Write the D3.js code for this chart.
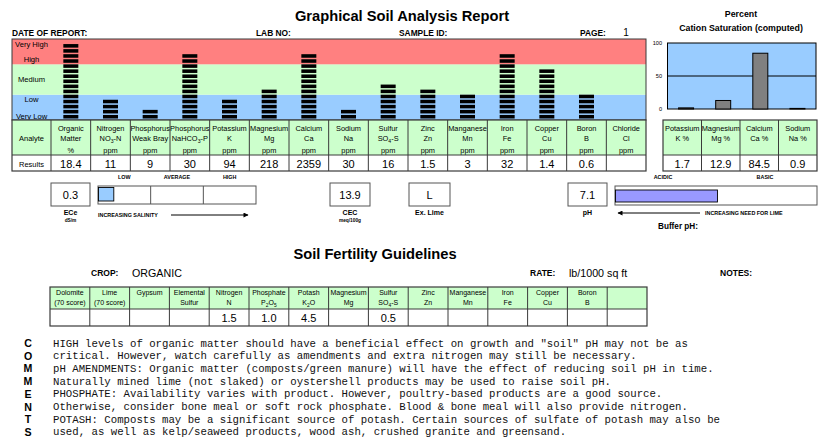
<!DOCTYPE html>
<html><head><meta charset="utf-8">
<script src="https://cdn.jsdelivr.net/npm/d3@7"></script>
<style>body{margin:0;background:#fff}svg{display:block}</style>
</head><body><svg id="c" width="830" height="448"></svg>
<script>
// ---------- DATA ----------
const analyteNames = ["Organic","Nitrogen","Phosphorus","Phosphorus","Potassium","Magnesium","Calcium","Sodium","Sulfur","Zinc","Manganese","Iron","Copper","Boron","Chloride"];
const analyteSub = ["Matter","NO{3}-N","Weak Bray","NaHCO{3}-P","K","Mg","Ca","Na","SO{4}-S","Zn","Mn","Fe","Cu","B","Cl"];
const analyteUnits = ["%","ppm","ppm","ppm","ppm","ppm","ppm","ppm","ppm","ppm","ppm","ppm","ppm","ppm","ppm"];
const results = ["18.4","11","9","30","94","218","2359","30","16","1.5","3","32","1.4","0.6",""];
const levels = [15,4,2,13,4,6,13,2,7,6,5,13,10,5,0];
const bandEdges = [0,5,11,16];
const bandColors = ["#99ccff","#ccffcc","#ff8080"];
const levelLabels = ["Very High","High","Medium","Low","Very Low"];
const levelLabelAt = [15,12,8,4,0.8];

const cationNames = ["Potassium","Magnesium","Calcium","Sodium"];
const cationSymbols = ["K %","Mg %","Ca %","Na %"];
const cationValues = [1.7,12.9,84.5,0.9];
const cationTicks = [0,50,100];

const ece = 0.3, cec = "13.9", exLime = "L", ph = 7.1;
const salinityLabels = ["LOW","AVERAGE","HIGH"];

const guideNames = ["Dolomite","Lime","Gypsum","Elemental","Nitrogen","Phosphate","Potash","Magnesium","Sulfur","Zinc","Manganese","Iron","Copper","Boron",""];
const guideSub = ["(70 score)","(70 score)","","Sulfur","N","P{2}O{5}","K{2}O","Mg","SO{4}-S","Zn","Mn","Fe","Cu","B",""];
const guideValues = ["","","","","1.5","1.0","4.5","","0.5","","","","","",""];

const commentLetters = ["C","O","M","M","E","N","T","S"];
const commentLines = [
 "HIGH levels of organic matter should have a beneficial effect on growth and \"soil\" pH may not be as",
 "critical. However, watch carefully as amendments and extra nitrogen may still be necessary.",
 "pH AMENDMENTS: Organic matter (composts/green manure) will have the effect of reducing soil pH in time.",
 "Naturally mined lime (not slaked) or oystershell products may be used to raise soil pH.",
 "PHOSPHATE: Availability varies with product. However, poultry-based products are a good source.",
 "Otherwise, consider bone meal or soft rock phosphate. Blood & bone meal will also provide nitrogen.",
 "POTASH: Composts may be a significant source of potash. Certain sources of sulfate of potash may also be",
 "used, as well as kelp/seaweed products, wood ash, crushed granite and greensand."
];

// ---------- HELPERS ----------
const SANS = '"Liberation Sans", Arial, Helvetica, sans-serif';
const svg = d3.select("#c");
const LINE = "#3a3a3a";
function txt(x, y, s, size, o = {}) {
  const t = svg.append("text").attr("x", x).attr("y", y)
    .attr("font-family", o.family || SANS).attr("font-size", size)
    .attr("font-weight", o.bold ? "bold" : "normal")
    .attr("text-anchor", o.anchor || "start").attr("fill", o.fill || "#000");
  if (o.rich) rich(t, s, size); else t.text(s);
  return t;
}
function rich(t, s, size) {
  const parts = s.split(/(\{[^}]*\})/).filter(p => p.length);
  let shifted = false;
  parts.forEach(p => {
    if (p[0] === "{") {
      t.append("tspan").attr("font-size", size * 0.7).attr("dy", shifted ? 0 : size * 0.3).text(p.slice(1, -1));
      shifted = true;
    } else {
      t.append("tspan").attr("dy", shifted ? -size * 0.3 : 0).text(p);
      shifted = false;
    }
  });
}
function rect(x, y, w, h, fill, stroke, sw) {
  return svg.append("rect").attr("x", x).attr("y", y).attr("width", w).attr("height", h)
    .attr("fill", fill || "none").attr("stroke", stroke || "none").attr("stroke-width", sw || 1);
}
function line(x1, y1, x2, y2, stroke, sw) {
  return svg.append("line").attr("x1", x1).attr("y1", y1).attr("x2", x2).attr("y2", y2)
    .attr("stroke", stroke || LINE).attr("stroke-width", sw || 1);
}
svg.append("defs").append("marker").attr("id", "ah").attr("viewBox", "0 0 10 10")
  .attr("refX", 9).attr("refY", 5).attr("markerWidth", 7).attr("markerHeight", 5)
  .attr("markerUnits", "userSpaceOnUse").attr("orient", "auto")
  .append("path").attr("d", "M0,0L10,5L0,10Z").attr("fill", "#000");

// ---------- TITLE / HEADER ----------
txt(402, 21, "Graphical Soil Analysis Report", 14.7, {bold: true, anchor: "middle"});
txt(12, 36, "DATE OF REPORT:", 8.4, {bold: true});
txt(256, 36, "LAB NO:", 8.4, {bold: true});
txt(399, 36, "SAMPLE ID:", 8.4, {bold: true});
txt(580, 36, "PAGE:", 8.4, {bold: true});
txt(626, 36, "1", 10, {anchor: "middle"});

// ---------- BAND CHART ----------
const LX0 = 12, LX1 = 51, RX = 646;
const x = d3.scaleBand().domain(d3.range(analyteNames.length)).range([LX1, RX]);
const y = d3.scaleLinear().domain([0, 16]).range([120, 39]);
const pitch = y(0) - y(1);
d3.range(3).forEach(i => {
  rect(LX0, y(bandEdges[i + 1]), RX - LX0, y(bandEdges[i]) - y(bandEdges[i + 1]), bandColors[i]);
});
levelLabels.forEach((l, i) => txt((LX0 + LX1) / 2, y(levelLabelAt[i]) + 2.6, l, 7.6, {anchor: "middle"}));
const bw = 15;
levels.forEach((n, i) => {
  svg.append("g").selectAll("rect").data(d3.range(n)).join("rect")
    .attr("x", x(i) + (x.bandwidth() - bw) / 2).attr("width", bw)
    .attr("y", k => y(k + 1)).attr("height", pitch - 1.5).attr("fill", "#000");
});
rect(LX0, 39, RX - LX0, 81, "none", LINE, 1);

// table
const TH0 = 120, TH1 = 155, TR1 = 171;
rect(LX0, TH0, RX - LX0, TH1 - TH0, "#ccffcc");
rect(LX0, TH1, RX - LX0, TR1 - TH1, "#fff");
txt((LX0 + LX1) / 2, 141, "Analyte", 7.5, {anchor: "middle"});
txt((LX0 + LX1) / 2, 166.5, "Results", 7.5, {anchor: "middle"});
analyteNames.forEach((nm, i) => {
  const cx = x(i) + x.bandwidth() / 2;
  txt(cx, 130.5, nm, 7.4, {anchor: "middle"});
  txt(cx, 141, analyteSub[i], 7.4, {anchor: "middle", rich: true});
  txt(cx, 152.5, analyteUnits[i], 7.4, {anchor: "middle"});
  txt(cx, 167.5, results[i], 11, {anchor: "middle"});
  line(x(i), TH0, x(i), TR1, LINE, 1);
});
line(LX0, TH1, RX, TH1, LINE, 1);
rect(LX0, TH0, RX - LX0, TR1 - TH0, "none", LINE, 1.2);

// ---------- CATION CHART ----------
txt(741, 17, "Percent", 8.8, {bold: true, anchor: "middle"});
txt(741, 31, "Cation Saturation (computed)", 8.8, {bold: true, anchor: "middle"});
const cy = d3.scaleLinear().domain([0, 100]).range([109, 43]);
const cx = d3.scaleBand().domain(d3.range(cationNames.length)).range([667.5, 816]);
rect(667.5, cy(100), 816 - 667.5, cy(0) - cy(100), "#99ccff", "#000", 1);
cationTicks.forEach(t => {
  txt(662, cy(t) + 2, String(t), 5.6, {anchor: "end"});
  if (t > 0 && t < 100) line(667.5, cy(t), 816, cy(t), "#000", 1);
});
cationValues.forEach((v, i) => {
  rect(cx(i) + (cx.bandwidth() - bw) / 2, cy(v), bw, cy(0) - cy(v), "#808080", "#000", 1);
});
const ct = d3.scaleBand().domain(d3.range(cationNames.length)).range([663, 817]);
rect(663, TH0, 154, TH1 - TH0, "#ccffcc");
rect(663, TH1, 154, TR1 - TH1, "#fff");
cationNames.forEach((nm, i) => {
  const c = ct(i) + ct.bandwidth() / 2;
  txt(c, 130.5, nm, 7.4, {anchor: "middle"});
  txt(c, 141, cationSymbols[i], 7.4, {anchor: "middle"});
  txt(c, 167.5, String(cationValues[i]), 11, {anchor: "middle"});
  if (i > 0) line(ct(i), TH0, ct(i), TR1, LINE, 1);
});
line(663, TH1, 817, TH1, LINE, 1);
rect(663, TH0, 154, TR1 - TH0, "none", LINE, 1.2);

// ---------- INDICATORS ----------
const BOXY = 183, BOXH = 23;
function valBox(x0, x1, val, lab, sub) {
  rect(x0, BOXY, x1 - x0, BOXH, "#fff", "#555", 1);
  txt((x0 + x1) / 2, 198.5, val, 11, {anchor: "middle"});
  txt((x0 + x1) / 2, 215, lab, 7, {bold: true, anchor: "middle"});
  if (sub) txt((x0 + x1) / 2, 221.5, sub, 4.8, {bold: true, anchor: "middle"});
}
valBox(51, 90, String(ece), "ECe", "dS/m");
valBox(330, 370, cec, "CEC", "meq/100g");
valBox(409, 450, exLime, "Ex. Lime", "");
valBox(568, 607, String(ph), "pH", "");

// salinity bar
const sx = d3.scaleLinear().domain([0, 3]).range([98, 256]);
rect(sx(0), 186, sx(3) - sx(0), 18, "#fff", "#555", 1);
[1, 2].forEach(v => line(sx(v), 186, sx(v), 204, "#555", 1));
rect(sx(0) + 0.5, 187.5, sx(ece) - sx(0) - 0.5, 13.5, "#99ccff", "#000", 0.9);
salinityLabels.forEach((l, i) => txt((sx(i) + sx(i + 1)) / 2, 179, l, 5.4, {bold: true, anchor: "middle"}));
txt(98, 217, "INCREASING SALINITY", 5.4, {bold: true});
line(171, 215, 248, 215, "#000", 1).attr("marker-end", "url(#ah)");

// buffer pH bar
const px = d3.scaleLinear().domain([0, 14]).range([615, 817]);
rect(px(0), 186, px(14) - px(0), 19, "#fff", "#555", 1);
rect(px(0) + 0.5, 190, px(ph) - px(0) - 0.5, 12, "#9999ff", "#000", 0.9);
txt(663, 179, "ACIDIC", 5.4, {bold: true, anchor: "middle"});
txt(765, 179, "BASIC", 5.4, {bold: true, anchor: "middle"});
line(700, 213, 618, 213, "#000", 1).attr("marker-end", "url(#ah)");
txt(705, 215, "INCREASING NEED FOR LIME", 5.4, {bold: true});
txt(678, 229, "Buffer pH:", 8.2, {bold: true, anchor: "middle"});

// ---------- GUIDELINES ----------
txt(375, 259, "Soil Fertility Guidelines", 14.7, {bold: true, anchor: "middle"});
txt(91, 276, "CROP:", 8.5, {bold: true});
txt(132, 277, "ORGANIC", 10.7);
txt(530, 276, "RATE:", 8.5, {bold: true});
txt(569, 277, "lb/1000 sq ft", 10.7);
txt(720, 276, "NOTES:", 8.5, {bold: true});

const gx = d3.scaleBand().domain(d3.range(guideNames.length)).range([50, 647]);
const GH0 = 287, GH1 = 309, GR1 = 326;
rect(50, GH0, 597, GH1 - GH0, "#ccffcc");
rect(50, GH1, 597, GR1 - GH1, "#fff");
guideNames.forEach((nm, i) => {
  const c = gx(i) + gx.bandwidth() / 2;
  txt(c, 294.5, nm, 7, {anchor: "middle"});
  txt(c, 304.5, guideSub[i], 7, {anchor: "middle", rich: true});
  txt(c, 322, guideValues[i], 11, {anchor: "middle"});
  if (i > 0) line(gx(i), GH0, gx(i), GR1, LINE, 1);
});
line(50, GH1, 647, GH1, LINE, 1);
rect(50, GH0, 597, GR1 - GH0, "none", LINE, 1.2);

// ---------- COMMENTS ----------
commentLetters.forEach((l, i) => txt(28, 347 + i * 12.7, l, 10.6, {bold: true, anchor: "middle"}));
commentLines.forEach((l, i) => txt(53, 346.5 + i * 12.7, l, 10.7, {family: '"Liberation Mono", "Courier New", monospace', fill: "#111"}).attr("xml:space", "preserve"));
</script></body></html>
